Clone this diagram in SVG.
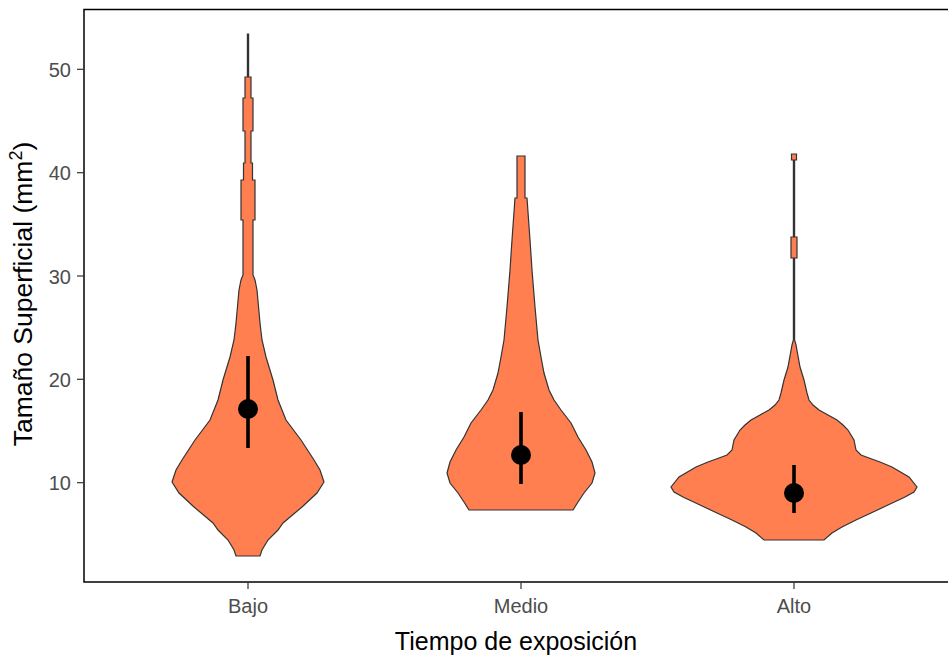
<svg xmlns="http://www.w3.org/2000/svg" width="948" height="660" viewBox="0 0 948 660">
<style>
.violin{fill:#FF7F50;stroke:#333333;stroke-width:1.2;stroke-linejoin:miter}
.rng{stroke:#000;stroke-width:3.6;fill:none}
.dot{fill:#000}
.tick{stroke:#333333;stroke-width:1.2}
.ytxt{font-family:"Liberation Sans",Arial,sans-serif;font-size:20px;fill:#4D4D4D;text-anchor:end}
.xtxt{font-family:"Liberation Sans",Arial,sans-serif;font-size:20px;fill:#4D4D4D;text-anchor:middle}
.title{font-family:"Liberation Sans",Arial,sans-serif;font-size:25px;fill:#000;text-anchor:middle}
</style>
<rect width="948" height="660" fill="#fff"/>
<g id="violins">
<path id="violin-bajo" class="violin" d="M248.6,34 L248.6,77 L251,77 L251,98 L253,98 L253,131 L251,131 L251,163 L252.5,163 L252.5,180 L255,180 L255,220 L253,220 L253,275 L255,280 L257,290 L260,323 L262,340 L266,357 L273,380 L278,400 L286,420 L301,440 L314,460 L320,470 L324,482 L317,493 L302,507 L283,523 L278,530 L268,540 L262,550 L260,556 L236,556 L234,550 L228,540 L218,530 L213,523 L194,507 L179,493 L172,482 L176,470 L182,460 L195,440 L210,420 L218,400 L223,380 L230,357 L234,340 L236,323 L239,290 L241,280 L243,275 L243,220 L241,220 L241,180 L243.5,180 L243.5,163 L245,163 L245,131 L243,131 L243,98 L245,98 L245,77 L247.4,77 L247.4,34 Z"/>
<path id="violin-medio" class="violin" d="M525,156 L525,198 L527,198 L530,240 L532,270 L535,307 L538,340 L541,357 L544,373 L549,390 L554,400 L561,410 L571,423 L578,437 L586,450 L592,462 L595,473 L592,483 L584,493 L578,502 L573,510 L469,510 L464,502 L458,493 L450,483 L447,473 L450,462 L456,450 L464,437 L471,423 L481,410 L488,400 L493,390 L498,373 L501,357 L504,340 L507,307 L510,270 L512,240 L515,198 L517,198 L517,156 Z"/>
<path id="violin-alto" class="violin" d="M796.5,154 L796.5,160 L794.6,160 L794.6,237 L797,237 L797,258 L794.6,258 L794.6,340 L796,345 L800,367 L804,380 L807,393 L809,400 L813,405 L819,410 L828,415 L837,420 L843,425 L848,430 L854,440 L856,450 L861,455 L869,458 L880,462 L892,467 L909,477 L917,487 L914,492 L905,497 L888,505 L871,513 L856,520 L842,527 L832,533 L824,540 L764,540 L756,533 L746,527 L732,520 L717,513 L700,505 L683,497 L674,492 L671,487 L679,477 L696,467 L708,462 L719,458 L727,455 L732,450 L734,440 L740,430 L745,425 L751,420 L760,415 L769,410 L775,405 L779,400 L781,393 L784,380 L788,367 L792,345 L793.4,340 L793.4,258 L791,258 L791,237 L793.4,237 L793.4,160 L791.5,160 L791.5,154 Z"/>
</g>
<g id="summaries">
<g id="sum-bajo"><line class="rng" x1="248" y1="356" x2="248" y2="448"/><circle class="dot" cx="248" cy="409" r="10"/></g>
<g id="sum-medio"><line class="rng" x1="521" y1="412" x2="521" y2="484"/><circle class="dot" cx="521" cy="455" r="10"/></g>
<g id="sum-alto"><line class="rng" x1="794" y1="465" x2="794" y2="513"/><circle class="dot" cx="794" cy="493" r="10"/></g>
</g>
<g id="axes">
<path d="M960,9.5 L84,9.5 L84,582 L960,582" fill="none" stroke="#000" stroke-width="1.5"/>
<g class="tick">
<line x1="77" y1="482.7" x2="84" y2="482.7"/>
<line x1="77" y1="379.3" x2="84" y2="379.3"/>
<line x1="77" y1="276" x2="84" y2="276"/>
<line x1="77" y1="172.7" x2="84" y2="172.7"/>
<line x1="77" y1="69.3" x2="84" y2="69.3"/>
<line x1="248" y1="582" x2="248" y2="589"/>
<line x1="521" y1="582" x2="521" y2="589"/>
<line x1="794" y1="582" x2="794" y2="589"/>
</g>
<text class="ytxt" x="71" y="490">10</text>
<text class="ytxt" x="71" y="387">20</text>
<text class="ytxt" x="71" y="283.5">30</text>
<text class="ytxt" x="71" y="180">40</text>
<text class="ytxt" x="71" y="77">50</text>
<text class="xtxt" x="248" y="613">Bajo</text>
<text class="xtxt" x="521" y="613">Medio</text>
<text class="xtxt" x="794" y="613">Alto</text>
<text class="title" x="516" y="650">Tiempo de exposición</text>
<text class="title" style="font-size:26.5px" transform="translate(32,294) rotate(-90)">Tamaño Superficial (mm<tspan style="font-size:18px" dy="-10">2</tspan><tspan dy="10">)</tspan></text>
</g>
</svg>
